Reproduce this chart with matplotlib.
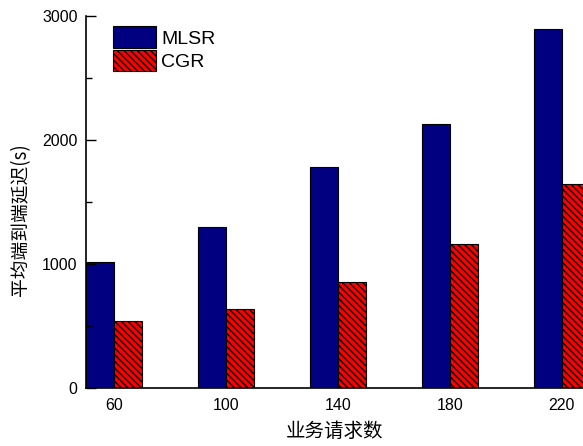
import numpy as np
import matplotlib
matplotlib.use('Agg')
import matplotlib.pyplot as plt
from matplotlib.ticker import MultipleLocator

plt.rcParams['font.family'] = ['Liberation Sans', 'Noto Sans CJK SC']
plt.rcParams['hatch.linewidth'] = 1.0

# 数据
categories = ['60', '100', '140', '180', '220']
mlsr = [1018, 1301, 1785, 2126, 2892]
cgr = [543, 640, 852, 1164, 1645]

fig = plt.figure(figsize=(5.83, 4.46), dpi=100)
ax = fig.add_axes([0.1475, 0.130, 0.8525, 0.834])

x = np.arange(len(categories))
w = 0.25
ax.bar(x - w / 2, mlsr, w, color='#000080', edgecolor='black', linewidth=0.8, label='MLSR')
ax.bar(x + w / 2, cgr, w, color='#ff0000', edgecolor='black', linewidth=0.8,
       hatch='\\\\\\\\\\', label='CGR')

ax.set_xlim(-0.25, 4.19)
ax.set_ylim(0, 3000)
ax.set_xticks(x)
ax.set_xticklabels(categories)
ax.yaxis.set_major_locator(MultipleLocator(1000))
ax.yaxis.set_minor_locator(MultipleLocator(500))
ax.tick_params(axis='y', which='major', direction='in', length=7, width=1, labelsize=11.5, pad=6)
ax.tick_params(axis='y', which='minor', direction='in', length=4, width=1)
ax.tick_params(axis='x', length=0, labelsize=11.5, pad=7)

for s in ['top', 'right']:
    ax.spines[s].set_visible(False)
for s in ['left', 'bottom']:
    ax.spines[s].set_linewidth(1.2)

ax.set_xlabel('业务请求数', fontsize=14, family=['Noto Sans CJK SC'], labelpad=6)
ax.set_ylabel('平均端到端延迟(s)', fontsize=13.5, family=['Noto Sans CJK SC'])
ax.yaxis.set_label_coords(-0.111, 0.454)

ax.legend(loc='upper left', bbox_to_anchor=(0.054, 0.972), frameon=False, fontsize=14,
          handlelength=2.2, handleheight=1.3, handletextpad=0.3, labelspacing=0.1,
          borderpad=0, borderaxespad=0)

fig.savefig('out.png', dpi=100)
